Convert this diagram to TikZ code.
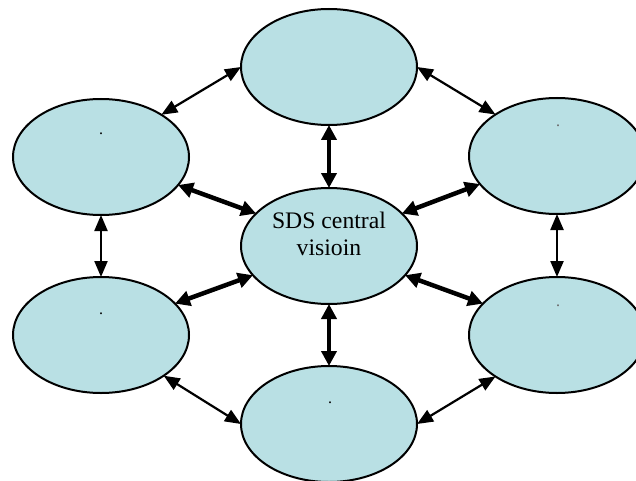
\documentclass[tikz,border=0pt]{standalone}
\usepackage{fontspec}
\setmainfont{Liberation Serif}
\usetikzlibrary{shapes.geometric,arrows.meta}
\definecolor{bubble}{RGB}{185,224,228}
\tikzset{
  bubble/.style={ellipse, draw=black, line width=2pt, fill=bubble,
    minimum width=176pt, minimum height=116pt, inner sep=0pt, outer sep=0pt},
  thinlink/.style={line width=2.2pt,
    {Triangle[length=16pt,width=13pt]}-{Triangle[length=16pt,width=13pt]}},
  thicklink/.style={line width=4.5pt,
    {Triangle[length=15pt,width=15pt]}-{Triangle[length=15pt,width=15pt]}},
  dotmark/.style={anchor=base, inner sep=0pt, font=\fontsize{16}{18}\selectfont}
}
\begin{document}
\begin{tikzpicture}[x=1pt,y=-1pt]
  \useasboundingbox (0,0) rectangle (636,481);
  \clip (0,0) rectangle (636,481);

  % the seven ellipses
  \node[bubble] (top) at (329,67) {};
  \node[bubble] (ctr) at (329,246) {};
  \node[bubble] (bot) at (329,424) {};
  \node[bubble] (ul)  at (101,157) {};
  \node[bubble] (ll)  at (101,335) {};
  \node[bubble] (ur)  at (557,156) {};
  \node[bubble] (lr)  at (557,335) {};

  % centre label (base anchor sits on the last line)
  \node[anchor=base, align=center, inner sep=0pt,
        font=\fontsize{23.7}{27}\selectfont] (lbl) at (329,255)
        {SDS central\\visioin};

  % small marks in the outer ellipses
  \node[dotmark] (dul) at (101,135) {.};
  \node[dotmark] (dll) at (101,314) {.};
  \node[dotmark] (dbt) at (330,403) {.};
  \node[dotmark, text=black!60] (dur) at (558,127) {.};
  \node[dotmark, text=black!60] (dlr) at (558,306) {.};

  % thick links to the centre
  \draw[thicklink] (top.south) -- (ctr.north);
  \draw[thicklink] (ctr.south) -- (bot.north);
  \draw[thicklink] (ctr.156) -- (ul.-20);
  \draw[thicklink] (ctr.24)  -- (ur.200);
  \draw[thicklink] (ctr.201) -- (ll.23);
  \draw[thicklink] (ctr.-21) -- (lr.157);

  % thin links around the ring
  \draw[thinlink] (top.west) -- (ul.35);
  \draw[thinlink] (top.east) -- (ur.146);
  \draw[thinlink] (ul.south) -- (ll.north);
  \draw[thinlink] (ur.south) -- (lr.north);
  \draw[thinlink] (ll.-33) -- (bot.west);
  \draw[thinlink] (lr.214) -- (bot.east);
\end{tikzpicture}
\end{document}
